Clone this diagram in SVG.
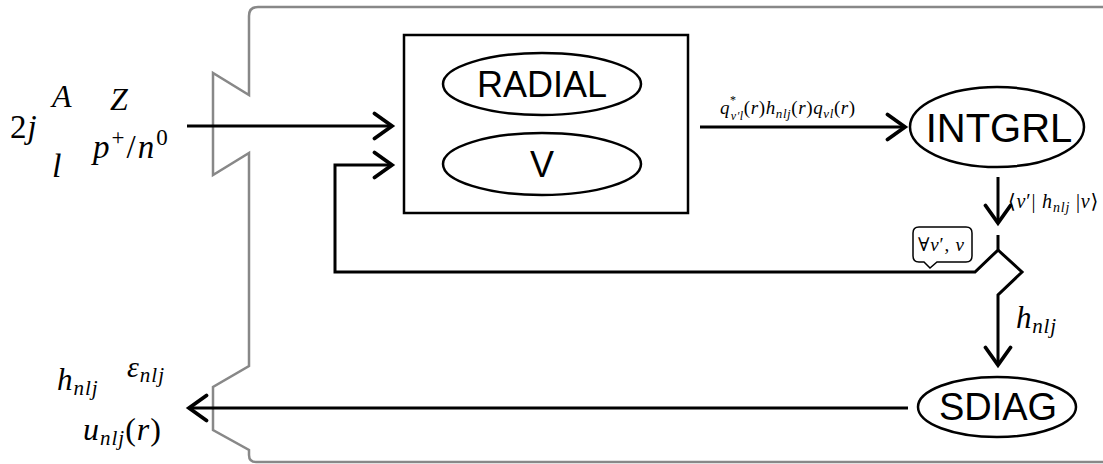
<svg xmlns="http://www.w3.org/2000/svg" width="1103" height="464" viewBox="0 0 1103 464">
<defs>
<marker id="arr" markerUnits="userSpaceOnUse" markerWidth="30" markerHeight="30" viewBox="-16 -12 20 24" refX="0" refY="0" orient="auto">
<path d="M-14,-10 L0,0 L-14,10" fill="none" stroke="#000" stroke-width="3" stroke-linecap="round" stroke-linejoin="miter"/>
</marker>
</defs>
<style>
.frame{fill:none;stroke:#888;stroke-width:2.5;}
.conn{fill:none;stroke:#000;stroke-width:3;}
.node{fill:#fff;stroke:#000;stroke-width:2.5;}
.lbl{font-family:"Liberation Sans",Arial,sans-serif;fill:#000;text-anchor:middle;}
.m{font-family:"Liberation Serif","DejaVu Serif",serif;fill:#000;}
.it{font-style:italic;}
</style>
<rect width="1103" height="464" fill="#fff"/>
<path class="frame" d="M1104,7 H258 Q249,7 249,16 V95 L213,73 V175 L249,153 V366 L213,387 V430 L249,450 V455 Q249,462 256,462 H1104"/>

<g id="connectors">
<path class="conn" d="M187,126 H392" marker-end="url(#arr)"/>
<path class="conn" d="M700,127 H905" marker-end="url(#arr)"/>
<path class="conn" d="M998,177 V223" marker-end="url(#arr)"/>
<path class="conn" d="M998,235 V250 L975,272 H335 V165 H392" marker-end="url(#arr)" stroke-linejoin="miter"/>
<path class="conn" d="M998,250 L1022,272 L998,295 V365" marker-end="url(#arr)"/>
<path class="conn" d="M908,408 H189" marker-end="url(#arr)"/>
</g>

<g id="box">
<rect class="node" x="404" y="35" width="284" height="178" fill="none"/>
</g>
<g id="radial">
<ellipse class="node" cx="542" cy="84" rx="99" ry="31"/>
<text class="lbl" x="542" y="97" font-size="36">RADIAL</text>
</g>
<g id="v">
<ellipse class="node" cx="542" cy="164" rx="99" ry="31"/>
<text class="lbl" x="542" y="177" font-size="36">V</text>
</g>
<g id="intgrl">
<ellipse class="node" cx="997" cy="127" rx="87" ry="40"/>
<text class="lbl" x="999" y="142" font-size="40">INTGRL</text>
</g>
<g id="sdiag">
<ellipse class="node" cx="997" cy="407" rx="79" ry="30"/>
<text class="lbl" x="998" y="420" font-size="38">SDIAG</text>
</g>

<g id="callout">
<path d="M919,227 H966 Q972,227 972,233 V256 Q972,262 966,262 H937 L930,268 L924,262 H919 Q913,262 913,256 V233 Q913,227 919,227 Z" fill="#fff" stroke="#000" stroke-width="1.5"/>
<text class="m" x="918" y="251" font-size="19" letter-spacing="0.8">∀<tspan class="it">v</tspan>′, <tspan class="it">v</tspan></text>
</g>

<g id="labels">
<text class="m" x="720" y="114" font-size="19" letter-spacing="0.6"><tspan class="it">q</tspan><tspan font-size="12" dy="-10">*</tspan><tspan class="it" font-size="12" dx="-6" dy="16">v′l</tspan><tspan dy="-6">(</tspan><tspan class="it">r</tspan>)<tspan class="it">h</tspan><tspan class="it" font-size="13" dy="4">nlj</tspan><tspan dy="-4">(</tspan><tspan class="it">r</tspan>)<tspan class="it">q</tspan><tspan class="it" font-size="13" dy="4">vl</tspan><tspan dy="-4">(</tspan><tspan class="it">r</tspan>)</text>
<text class="m" x="1008" y="208" font-size="20" letter-spacing="0.8">⟨<tspan class="it">v</tspan>′| <tspan class="it">h</tspan><tspan class="it" font-size="14" dy="4">nlj</tspan><tspan dy="-4"> |</tspan><tspan class="it">v</tspan>⟩</text>
<text class="m" x="1016" y="328" font-size="31" letter-spacing="0.8"><tspan class="it">h</tspan><tspan class="it" font-size="21" dy="5">nlj</tspan></text>

<text class="m" x="10" y="138" font-size="33" letter-spacing="1">2<tspan class="it">j</tspan></text>
<text class="m it" x="52" y="107" font-size="32">A</text>
<text class="m it" x="110" y="110" font-size="32">Z</text>
<text class="m it" x="52" y="177" font-size="34">l</text>
<text class="m" x="93" y="158" font-size="33" letter-spacing="2"><tspan class="it">p</tspan><tspan font-size="23" dy="-13">+</tspan><tspan dy="13">/</tspan><tspan class="it">n</tspan><tspan font-size="23" dy="-13">0</tspan></text>

<text class="m" x="57" y="390" font-size="31" letter-spacing="1"><tspan class="it">h</tspan><tspan class="it" font-size="21" dy="5">nlj</tspan></text>
<text class="m" x="127" y="377" font-size="30" letter-spacing="1"><tspan class="it">ε</tspan><tspan class="it" font-size="21" dy="5">nlj</tspan></text>
<text class="m" x="83" y="440" font-size="32" letter-spacing="1"><tspan class="it">u</tspan><tspan class="it" font-size="21" dy="5">nlj</tspan><tspan dy="-5">(</tspan><tspan class="it">r</tspan>)</text>
</g>
</svg>
